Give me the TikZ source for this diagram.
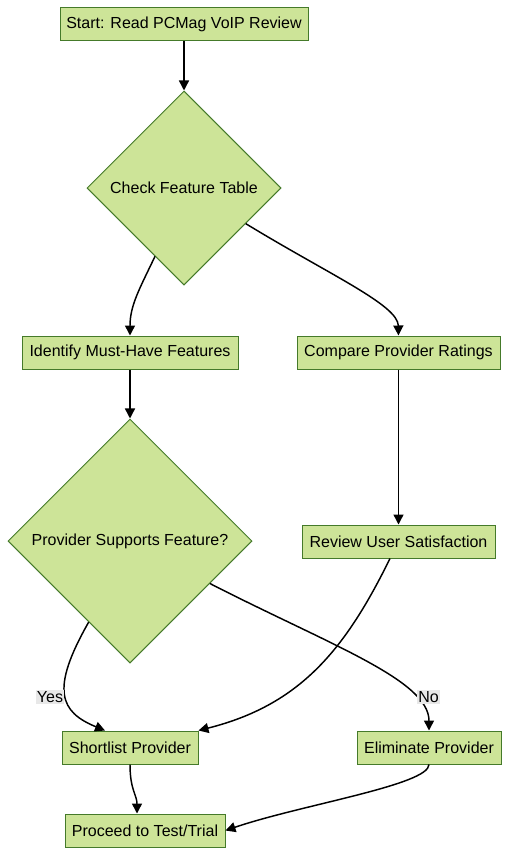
\documentclass[tikz,border=0pt]{standalone}
\usepackage{fontspec}
\setmainfont{Liberation Sans}
\usepackage{xcolor}
\usetikzlibrary{arrows.meta,shapes.geometric}
\definecolor{boxfill}{HTML}{CDE498}
\definecolor{boxline}{HTML}{457A2A}
\definecolor{lblbg}{HTML}{E8E8E8}

\begin{document}
\begin{tikzpicture}[x=0.75pt,y=-0.75pt,
    block/.style={draw=boxline,fill=boxfill,line width=0.75pt,minimum height=24.75pt,
      align=center,font=\fontsize{12}{14}\selectfont,inner sep=2pt},
    decision/.style={draw=boxline,fill=boxfill,line width=0.75pt,shape=diamond,aspect=1,
      align=center,font=\fontsize{12}{14}\selectfont,inner sep=0pt},
    flow/.style={-{Triangle[length=7.5pt,width=7.5pt]},line width=1.1pt},
    lbl/.style={fill=lblbg,font=\fontsize{12}{14}\selectfont,inner sep=1pt}
  ]
    \useasboundingbox (0,0) rectangle (510,856);
    \node[block,minimum width=186pt] (start) at (184,24.5) {Start: Read PCMag VoIP Review};
    \node[decision,minimum width=145.5pt,minimum height=145.5pt] (check) at (184,188) {Check Feature Table};
    \node[block,minimum width=162pt] (must) at (130,352.5) {Identify Must-Have Features};
    \node[block,minimum width=152.25pt] (compare) at (398.5,352.5) {Compare Provider Ratings};
    \node[decision,minimum width=183pt,minimum height=183pt] (supports) at (130,541) {Provider Supports Feature?};
    \node[block,minimum width=144.75pt] (review) at (398.5,541.5) {Review User Satisfaction};
    \node[block,minimum width=102pt] (short) at (130,747.5) {Shortlist Provider};
    \node[block,minimum width=108pt] (elim) at (429,747.5) {Eliminate Provider};
    \node[block,minimum width=120pt] (proceed) at (145,830.5) {Proceed to Test/Trial};
    \draw[flow] (start) -- (check);
    \draw[flow] (check.247) .. controls (140,288) and (130,305) .. (must.north);
    \draw[flow] (check.-30) .. controls (330,275) and (398,305) .. (compare.north);
    \draw[flow] (must) -- (supports);
    \draw[flow] (compare) -- (review);
    \draw[flow] (supports.243) .. controls (50,690) and (60,712) .. (short.north west -| 105,0);
    \node[lbl] (yes) at (50,697) {Yes};
    \draw[flow] (supports.-28) .. controls (330,645) and (429,680) .. (elim.north);
    \node[lbl] (no) at (428.5,697) {No};
    \draw[flow] (review.south -| 390,0) .. controls (345,650) and (300,705) .. (short.north east);
    \draw[flow] (short.south) .. controls (130,790) and (137,795) .. (proceed.north -| 137,0);
    \draw[flow] (elim.south) .. controls (429,785) and (300,805) .. (proceed.east);
\end{tikzpicture}
\end{document}
